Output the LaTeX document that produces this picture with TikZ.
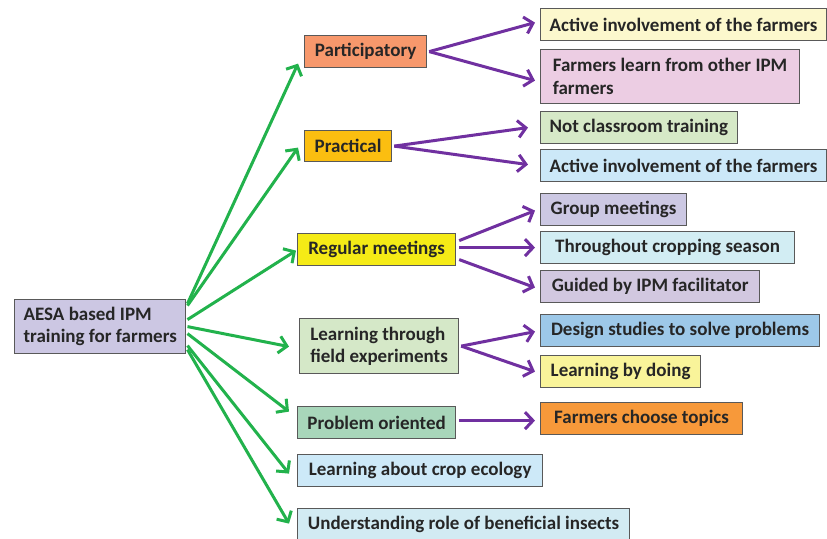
\documentclass[tikz,border=0pt]{standalone}
\usepackage{fontspec}
\setmainfont{Carlito}
\usepackage{tikz}
\usetikzlibrary{arrows.meta}

\definecolor{cRoot}{RGB}{204,199,227}
\definecolor{cPart}{RGB}{247,152,108}
\definecolor{cPrac}{RGB}{251,190,16}
\definecolor{cReg}{RGB}{245,235,22}
\definecolor{cField}{RGB}{213,232,200}
\definecolor{cProb}{RGB}{168,214,186}
\definecolor{cEco}{RGB}{205,233,248}
\definecolor{cIns}{RGB}{210,235,243}
\definecolor{cActA}{RGB}{252,248,205}
\definecolor{cLearn}{RGB}{236,205,227}
\definecolor{cClass}{RGB}{214,233,199}
\definecolor{cActB}{RGB}{204,232,248}
\definecolor{cGroup}{RGB}{204,200,227}
\definecolor{cSeason}{RGB}{210,237,243}
\definecolor{cGuide}{RGB}{210,200,224}
\definecolor{cDesign}{RGB}{157,200,232}
\definecolor{cDoing}{RGB}{249,244,154}
\definecolor{cTopic}{RGB}{247,153,58}
\definecolor{arrGreen}{RGB}{34,178,76}
\definecolor{arrPurple}{RGB}{112,48,160}

\tikzset{
  box/.style={draw=black!65, line width=1.2pt, anchor=north west,
    font=\fontsize{19}{22.5}\selectfont\bfseries, text=black!85,
    inner xsep=9pt, inner ysep=0pt, align=left, minimum height=32pt},
  grn/.style={draw=arrGreen, line width=3pt, -{Straight Barb[length=8pt,width=17pt]}},
  prp/.style={draw=arrPurple, line width=3pt, -{Straight Barb[length=8pt,width=17pt]}}
}

\begin{document}
\begin{tikzpicture}[x=1pt, y=-1pt]
\useasboundingbox (0,0) rectangle (827,538);

\node[box, fill=cRoot, minimum width=171pt, minimum height=54pt] (root) at (14,299) {AESA based IPM\\training for farmers};

\node[box, fill=cPart, minimum width=122pt] (part) at (304,35) {Participatory};
\node[box, fill=cPrac, minimum width=87pt, minimum height=31pt] (prac) at (304,130) {Practical};
\node[box, fill=cReg, minimum width=158pt] (reg) at (297,233) {Regular meetings};
\node[box, fill=cField, minimum width=159pt, minimum height=55pt] (field) at (299,318) {Learning through\\field experiments};
\node[box, fill=cProb, minimum width=158pt] (prob) at (297,406) {Problem oriented};
\node[box, fill=cEco, minimum width=245pt] (eco) at (297,454) {Learning about crop ecology};
\node[box, fill=cIns, minimum width=332pt] (ins) at (297,508) {Understanding role of beneficial insects};

\node[box, fill=cActA, minimum width=286pt] (actA) at (540,8) {Active involvement of the farmers};
\node[box, fill=cLearn, minimum width=259pt, minimum height=54pt] (learn) at (540,49) {Farmers learn from other IPM\\farmers};
\node[box, fill=cClass, minimum width=187pt] (class) at (540,111) {Not classroom training};
\node[box, fill=cActB, minimum width=286pt] (actB) at (540,149) {Active involvement of the farmers};
\node[box, fill=cGroup, minimum width=146pt] (group) at (540,193) {Group meetings};
\node[box, fill=cSeason, minimum width=254pt] (season) at (540,231) {Throughout cropping season};
\node[box, fill=cGuide, minimum width=219pt] (guide) at (540,270) {Guided by IPM facilitator};
\node[box, fill=cDesign, minimum width=279pt] (design) at (540,314) {Design studies to solve problems};
\node[box, fill=cDoing, minimum width=160pt] (doing) at (540,355) {Learning by doing};
\node[box, fill=cTopic, minimum width=202pt] (topic) at (540,402) {Farmers choose topics};

\draw
  ([shift={(1,-23)}]root.east) edge[grn] ([shift={(-6,12)}]part.west)
  ([shift={(1,-21)}]root.east) edge[grn] ([shift={(-6,1.5)}]prac.west)
  ([shift={(1,-7)}]root.east) edge[grn] ([shift={(-1,1)}]reg.west)
  ([shift={(1,0)}]root.east) edge[grn] ([shift={(-10,0.5)}]field.west)
  ([shift={(1,7)}]root.east) edge[grn] ([shift={(-8,-11)}]prob.west)
  ([shift={(1,19)}]root.east) edge[grn] ([shift={(-8,3)}]eco.west)
  ([shift={(1,23)}]root.east) edge[grn] ([shift={(-8,-1)}]ins.west)
;

\draw
  ([xshift=2pt]part.east) edge[prp] ([shift={(-5,-2)}]actA.west)
  ([xshift=2pt]part.east) edge[prp] ([shift={(-5,4)}]learn.west)
  ([xshift=2pt]prac.east) edge[prp] ([shift={(-12,0)}]class.west)
  ([xshift=2pt]prac.east) edge[prp] ([shift={(-12,-1)}]actB.west)
  ([shift={(3,-9)}]reg.east) edge[prp] ([shift={(-5,1)}]group.west)
  ([shift={(3,-2)}]reg.east) edge[prp] ([shift={(-5,0)}]season.west)
  ([shift={(3,10)}]reg.east) edge[prp] ([shift={(-5,1)}]guide.west)
  ([xshift=2pt]field.east) edge[prp] ([shift={(-5,1)}]design.west)
  ([xshift=2pt]field.east) edge[prp] ([shift={(-5,0)}]doing.west)
  ([shift={(3,-2)}]prob.east) edge[prp] ([shift={(-5,2)}]topic.west)
;
\end{tikzpicture}
\end{document}
